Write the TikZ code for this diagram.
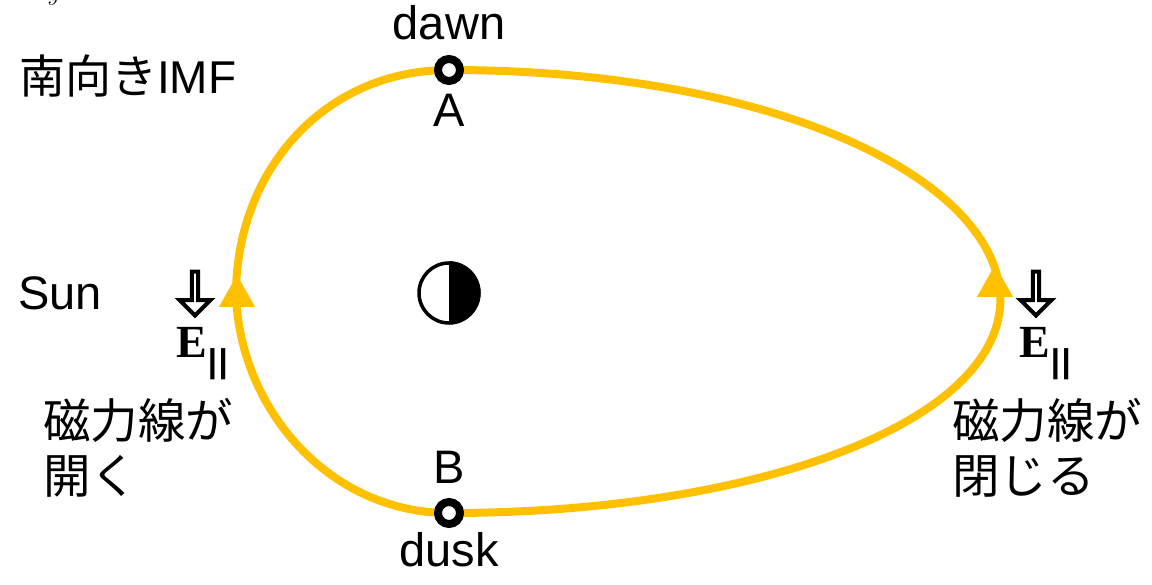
\documentclass[tikz,border=0pt]{standalone}
\usepackage{fontspec}
\setmainfont{Liberation Sans}
\newfontfamily\cjk{Noto Sans CJK JP}
\newfontfamily\serifbf{Liberation Serif}
\usetikzlibrary{arrows.meta,calc,positioning,shapes.arrows,shapes.geometric}
\definecolor{LoopYellow}{RGB}{255,192,0}
\newcommand{\Epar}{{\serifbf\bfseries\fontsize{46}{46}\selectfont E}\kern1pt\raisebox{-15pt}{\fontsize{33}{33}\selectfont\bfseries |\kern1.5pt|}}

\begin{document}
\begin{tikzpicture}[x=1pt, y=-1pt,
    label/.style={font=\fontsize{47}{47}\selectfont, inner sep=0pt, anchor=base},
    jptext/.style={font=\cjk\fontsize{47.5}{55}\selectfont, inner sep=0pt, align=left, anchor=north west},
    ring/.style={circle, draw=black, fill=white, line width=8pt, minimum size=22pt, inner sep=0pt},
    loopline/.style={draw=LoopYellow, line width=8pt},
    head/.style={isosceles triangle, isosceles triangle stretches, shape border rotate=90,
        fill=LoopYellow, minimum height=32pt, minimum width=36pt, inner sep=0pt, anchor=south},
    downarrow/.style={single arrow, draw=black, fill=white, line width=4pt, shape border rotate=270,
        single arrow head extend=8pt, single arrow head indent=0pt, single arrow tip angle=90,
        minimum width=31pt, minimum height=44pt, inner sep=0pt}]
\useasboundingbox (0,0) rectangle (1152,585);

\coordinate (sun) at (236,295);
\coordinate (tail) at (1000,290);

% orbit
\draw[loopline] (449,70) .. controls (325,70) and (236,170) .. (sun);
\draw[loopline] (sun) .. controls (240,410) and (330,513) .. (449,513);
\draw[loopline] (449,70) .. controls (760,70) and (985,170) .. (tail);
\draw[loopline] (tail) .. controls (1012,420) and (760,513) .. (449,513);

\node[ring] (A) at (449,70) {};
\node[ring] (B) at (449,513) {};
\node[head] (sunhead) at (237,307) {};
\node[head] (tailhead) at (995,297) {};

\node[label] (dawn) at (449,40) {dawn};
\node[label] (labA) at (449,127) {A};
\node[label] (labB) at (449,483) {B};
\node[label] (dusk) at (449,566) {dusk};
\node[label, anchor=base west] (sunlab) at (18,310) {Sun};
\node[font=\cjk\fontsize{46}{46}\selectfont, inner sep=0pt, anchor=base west] (imf) at (19,94)
    {南向き\fontspec{Liberation Sans}IMF};

% earth
\node[circle, draw=black, fill=white, line width=3.5pt, minimum size=60pt, inner sep=0pt] (earth) at (449,293) {};
\fill (earth.north) arc[start angle=90, end angle=-90, radius=31.5pt] -- cycle;

\node[downarrow] (arrowL) at (195,292) {};
\node[downarrow] (arrowR) at (1036,292) {};
\node[inner sep=0pt, anchor=base west] (eL) at (176,358) {\Epar};
\node[inner sep=0pt, anchor=base west] (eR) at (1019,358) {\Epar};

\node[jptext] (openL) at (43,398) {磁力線が\\開く};
\node[jptext] (closeR) at (952,398) {磁力線が\\閉じる};

\node[inner sep=0pt, font=\fontsize{36}{36}\selectfont] (ycut) at (54,-2) {$y$};
\end{tikzpicture}
\end{document}
